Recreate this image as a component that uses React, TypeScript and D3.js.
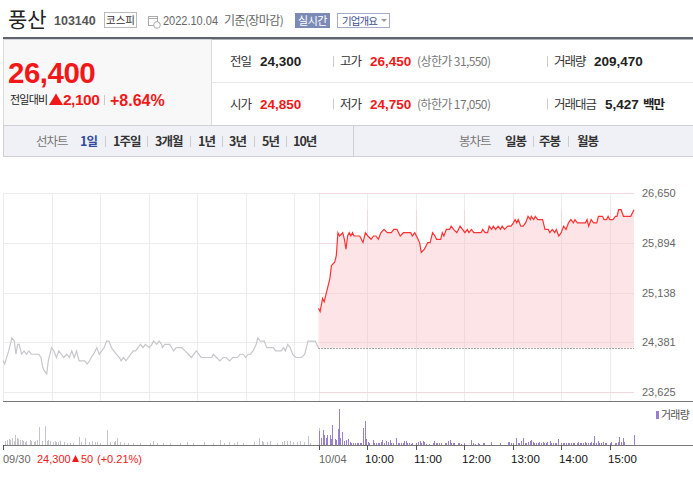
import React from "react";
import * as d3 from "d3";

// ---------- data ----------
const stockName = "풍산";
const stockCode = "103140";
const market = "코스피";
const asOfDate = "2022.10.04";
const asOfNote = "기준(장마감)";
const curPrice = "26,400";
const changeAbs = "2,100";
const changePct = "+8.64%";
const infoRow1 = [
  { label: "전일", value: "24,300", red: false, note: "" },
  { label: "고가", value: "26,450", red: true, note: "(상한가 31,550)" },
  { label: "거래량", value: "209,470", red: false, note: "" },
];
const infoRow2 = [
  { label: "시가", value: "24,850", red: true, note: "" },
  { label: "저가", value: "24,750", red: true, note: "(하한가 17,050)" },
  { label: "거래대금", value: "5,427", red: false, note: "백만" },
];
const lineTabs = ["1일", "1주일", "3개월", "1년", "3년", "5년", "10년"];
const candleTabs = ["일봉", "주봉", "월봉"];

const yTicks = [23625, 24381, 25138, 25894, 26650];
const prevClose = 24300;
const prevDayLabel = "09/30";
const todayLabel = "10/04";
const hourLabels = ["10:00", "11:00", "12:00", "13:00", "14:00", "15:00"];
const prevDaySummary = { price: "24,300", change: "50", pct: "(+0.21%)" };
const volumeLegend = "거래량";

// [minute from 09:00, price]
const prevSeries: [number, number][] = [
  [0, 24100], [2, 24050], [7, 24250], [11, 24450], [14, 24400], [16, 24200], [18, 24350], [20, 24350],
  [23, 24200], [26, 24250], [29, 24200], [32, 24250], [35, 24200], [39, 24200], [44, 24200], [47, 24150],
  [49, 24000], [51, 23950], [54, 23900], [56, 24100], [60, 24300], [63, 24250], [66, 24150], [69, 24250],
  [72, 24200], [75, 24150], [79, 24200], [82, 24150], [85, 24250], [88, 24150], [91, 24250], [94, 24100],
  [98, 24100], [101, 24100], [104, 24050], [107, 24100], [109, 24150], [112, 24200], [116, 24300], [119, 24200],
  [122, 24250], [125, 24300], [128, 24400], [131, 24400], [134, 24300], [137, 24250], [140, 24200], [144, 24150],
  [146, 24100], [149, 24150], [152, 24100], [155, 24150], [158, 24200], [161, 24250], [164, 24250], [167, 24300],
  [170, 24350], [173, 24300], [176, 24350], [181, 24300], [184, 24350], [186, 24400], [190, 24350], [193, 24400],
  [196, 24350], [197, 24300], [200, 24350], [206, 24350], [211, 24250], [214, 24300], [221, 24300], [225, 24250],
  [229, 24200], [233, 24150], [236, 24200], [239, 24250], [242, 24200], [245, 24150], [249, 24150], [258, 24150],
  [260, 24200], [264, 24150], [268, 24100], [272, 24150], [276, 24150], [280, 24100], [284, 24150], [290, 24150],
  [293, 24200], [297, 24200], [300, 24150], [303, 24200], [306, 24200], [309, 24250], [313, 24350], [315, 24450],
  [318, 24400], [323, 24400], [326, 24300], [334, 24300], [337, 24250], [344, 24250], [347, 24300], [349, 24250],
  [352, 24350], [355, 24300], [358, 24200], [362, 24150], [369, 24150], [373, 24200], [376, 24350], [377, 24400],
  [386, 24400], [390, 24300],
];

const todaySeries: [number, number][] = [
  [0, 24900], [2, 24850], [5, 25050], [7, 25000], [11, 25200], [14, 25350], [16, 25550], [20, 25600],
  [22, 25700], [24, 26050], [26, 26000], [30, 26050], [32, 25950], [34, 25800], [36, 26000], [38, 26050],
  [40, 26000], [42, 26050], [44, 26000], [51, 26000], [55, 25900], [58, 26050], [61, 26000], [65, 25950],
  [68, 26000], [71, 26000], [74, 25950], [77, 26050], [81, 26100], [85, 26050], [90, 26050], [93, 26100],
  [97, 26100], [101, 26000], [105, 26050], [114, 26050], [116, 26000], [119, 26050], [123, 25950], [125, 25900],
  [127, 25750], [131, 25800], [135, 25900], [138, 25900], [141, 26050], [144, 26000], [146, 25950], [151, 25950],
  [153, 26050], [155, 26000], [158, 26100], [162, 26100], [164, 26150], [167, 26100], [171, 26050], [175, 26150],
  [178, 26100], [181, 26050], [184, 26100], [186, 26050], [189, 26100], [192, 26050], [201, 26050], [203, 26100],
  [206, 26050], [209, 26050], [211, 26150], [214, 26100], [216, 26150], [219, 26100], [222, 26150], [225, 26100],
  [227, 26150], [230, 26100], [234, 26150], [238, 26150], [241, 26200], [243, 26250], [245, 26200], [247, 26250],
  [250, 26150], [253, 26150], [256, 26200], [259, 26300], [262, 26250], [263, 26300], [266, 26250], [268, 26300],
  [271, 26250], [277, 26250], [280, 26100], [284, 26100], [286, 26050], [289, 26100], [292, 26050], [294, 26100],
  [297, 26000], [300, 26050], [303, 26150], [306, 26100], [309, 26200], [312, 26250], [315, 26200], [317, 26250],
  [320, 26200], [330, 26200], [332, 26250], [334, 26150], [337, 26250], [340, 26200], [344, 26200], [346, 26300],
  [351, 26300], [353, 26250], [356, 26250], [358, 26300], [360, 26250], [364, 26250], [367, 26300], [369, 26300],
  [371, 26400], [374, 26400], [377, 26300], [386, 26300], [390, 26400],
];

// [minute from 09:00, shares]
const prevVolumes: [number, number][] = [
  [2, 900], [5, 1350], [7, 1500], [9, 1350], [11, 1750], [13, 900], [15, 2600], [17, 1750], [19, 1500],
  [21, 1150], [23, 1350], [25, 900], [27, 650], [29, 900], [33, 1350], [35, 900], [38, 650], [40, 900],
  [42, 1150], [45, 4500], [48, 900], [52, 4850], [54, 900], [56, 1150], [58, 900], [62, 650], [64, 900],
  [66, 650], [68, 650], [71, 900], [75, 650], [79, 500], [83, 500], [87, 500], [94, 2000], [97, 650],
  [101, 1750], [106, 650], [110, 900], [114, 650], [116, 650], [120, 500], [128, 3850], [132, 650], [137, 650],
  [139, 900], [141, 1750], [145, 650], [149, 500], [155, 500], [161, 500], [169, 500], [182, 500], [186, 900],
  [190, 500], [198, 500], [207, 500], [219, 500], [227, 650], [235, 500], [248, 650], [260, 500], [268, 1350],
  [273, 500], [279, 650], [285, 500], [289, 650], [297, 500], [310, 650], [317, 1750], [320, 900], [322, 650],
  [326, 650], [330, 900], [339, 500], [345, 650], [347, 900], [351, 900], [355, 900], [359, 650], [363, 650],
  [367, 900], [372, 650], [377, 2150], [380, 500], [390, 4250],
];

const todayVolumes: [number, number][] = [
  [1, 3500], [3, 1650], [5, 3750], [7, 2500], [9, 1650], [11, 2500], [14, 2500], [15, 1400], [17, 5000],
  [20, 1400], [22, 1250], [24, 3900], [25, 8900], [27, 1650], [29, 3300], [32, 1100], [34, 1250], [36, 1400],
  [39, 850], [40, 600], [43, 600], [45, 600], [47, 600], [49, 600], [51, 400], [53, 400], [55, 4150],
  [57, 6000], [59, 1400], [61, 850], [63, 400], [67, 1250], [69, 400], [71, 400], [73, 400], [75, 400],
  [77, 850], [79, 1250], [81, 600], [83, 1100], [86, 850], [88, 1250], [90, 400], [92, 400], [96, 1850],
  [98, 400], [100, 600], [102, 400], [104, 600], [106, 1100], [108, 1100], [110, 400], [112, 400], [114, 250],
  [116, 400], [121, 400], [123, 850], [125, 1100], [127, 400], [129, 1100], [131, 850], [133, 250], [137, 250],
  [141, 600], [143, 1100], [145, 600], [147, 400], [149, 400], [152, 400], [156, 400], [158, 400], [160, 1100],
  [162, 1250], [164, 600], [166, 600], [168, 400], [172, 400], [174, 400], [176, 250], [180, 400], [189, 1250],
  [191, 400], [193, 250], [197, 400], [199, 250], [203, 600], [205, 400], [213, 850], [224, 400], [234, 850],
  [236, 850], [238, 400], [240, 400], [244, 1850], [246, 400], [248, 400], [250, 1100], [253, 1850], [255, 400],
  [257, 600], [259, 850], [261, 1100], [263, 1250], [265, 850], [267, 600], [269, 400], [271, 600], [273, 850],
  [275, 400], [277, 850], [279, 600], [281, 400], [283, 850], [286, 1100], [288, 600], [290, 400], [292, 400],
  [294, 600], [296, 1400], [300, 400], [302, 400], [304, 600], [306, 400], [308, 400], [310, 600], [312, 400],
  [314, 400], [316, 400], [319, 400], [321, 850], [323, 600], [325, 400], [327, 400], [329, 850], [331, 400],
  [333, 400], [335, 400], [337, 850], [339, 400], [341, 2250], [343, 400], [345, 1100], [347, 600], [349, 400],
  [352, 850], [354, 600], [356, 400], [360, 400], [362, 850], [366, 400], [368, 400], [370, 850], [372, 1900],
  [374, 850], [376, 1650], [378, 850], [390, 2500],
];

// ---------- layout / style ----------
const SANS = "'Liberation Sans', Arial, 'Noto Sans CJK KR', sans-serif";
const KR = "'Noto Sans CJK KR', 'Liberation Sans', sans-serif";
const RED = "#f21818";
const tabX = [80, 113, 155, 198, 229, 262, 293];
const tabSepX = [105, 147, 190, 222, 254, 286];
const candleX = [505, 539, 577];
const candleSepX = [533, 568];

export default function App() {
  const W = 693;
  const H = 477;
  const DAY = 390;
  const x = d3.scaleLinear().domain([0, DAY * 2]).range([3, 634]);
  const y = d3.scaleLinear().domain([23625, 26650]).range([392, 193.3]);
  const v = d3.scaleLinear().domain([0, 10000]).range([445, 405]);

  const line = d3
    .line<[number, number]>()
    .x((d) => x(d[0]))
    .y((d) => y(d[1]));
  const todayShifted = todaySeries.map(([m, p]) => [m + DAY, p] as [number, number]);
  const area = d3
    .area<[number, number]>()
    .x((d) => x(d[0]))
    .y0(y(prevClose))
    .y1((d) => y(d[1]));

  const hourGrid: number[] = [];
  for (let h = 0; h <= 6; h++) hourGrid.push(h * 60);
  for (let h = 0; h <= 6; h++) hourGrid.push(DAY + h * 60);

  const plotRight = x(DAY * 2);
  const grid = "#ececec";

  return (
    <svg
      width={W}
      height={H}
      style={{ position: "absolute", left: 0, top: 0, background: "#fff" }}
      fontFamily={SANS}
    >
      {/* ---------- title row ---------- */}
      <text x={8} y={27} fontFamily={KR} fontSize={21} fill="#222">
        {stockName}
      </text>
      <text x={54} y={25} fontSize={12.5} fontWeight="bold" fill="#555">
        {stockCode}
      </text>
      <rect x={104.5} y={12.5} width={32} height={15} fill="#fff" stroke="#bbb" />
      <text x={120.5} y={24} fontFamily={KR} fontSize={10.5} fill="#333" textAnchor="middle">
        {market}
      </text>
      <g stroke="#aaa" fill="none">
        <rect x={148.5} y={16.5} width={9} height={9} />
        <line x1={148.5} y1={18.5} x2={157.5} y2={18.5} />
        <circle cx={157} cy={25} r={3.3} fill="#fff" />
      </g>
      <text x={163} y={25} fontSize={12} fill="#666" textLength={55} lengthAdjust="spacingAndGlyphs">
        {asOfDate}
      </text>
      <text x={224} y={25} fontFamily={KR} fontSize={12} fill="#666" letterSpacing={-0.6}>
        {asOfNote}
      </text>
      <rect x={295} y={13} width={35} height={15} fill="#7b8bb6" />
      <text x={312.5} y={24.5} fontFamily={KR} fontSize={11} fill="#fff" textAnchor="middle" letterSpacing={-0.5}>
        실시간
      </text>
      <rect x={337.5} y={13.5} width={52} height={14} fill="#fff" stroke="#a4acc8" />
      <text x={342} y={24.5} fontFamily={KR} fontSize={10.5} fill="#3d4f8f" letterSpacing={-0.9}>
        기업개요
      </text>
      <path d="M381,19 L387,19 L384,22 Z" fill="#999" />

      {/* ---------- price block ---------- */}
      <rect x={3} y={37} width={690} height={2.5} fill="#5e646e" />
      <rect x={3} y={39.5} width={208} height={85.5} fill="#f8f8f9" />
      <line x1={211.5} y1={39.5} x2={211.5} y2={125} stroke="#dcdcdc" />
      <line x1={3.5} y1={39.5} x2={3.5} y2={125} stroke="#dcdcdc" />
      <line x1={212} y1={82.5} x2={693} y2={82.5} stroke="#e8e8e8" />

      <text x={8} y={83} fontSize={29.5} fontWeight="bold" fill={RED} letterSpacing={-0.5}>
        {curPrice}
      </text>
      <text x={10} y={104} fontFamily={KR} fontSize={11} fill="#222" letterSpacing={-0.8}>
        전일대비
      </text>
      <path d="M49,105 L56,93.5 L63,105 Z" fill={RED} />
      <text x={63} y={105} fontSize={15.5} fontWeight="bold" fill={RED} letterSpacing={-0.5}>
        {changeAbs}
      </text>
      <line x1={104.5} y1={95} x2={104.5} y2={105} stroke="#ccc" />
      <text x={110} y={105.5} fontSize={16} fontWeight="bold" fill={RED}>
        {changePct}
      </text>

      {[infoRow1, infoRow2].map((row, ri) => {
        const by = ri === 0 ? 66 : 108.5;
        const cols = [230, 340, 554];
        const valX = [260, 370, ri === 0 ? 594 : 605];
        return (
          <g key={ri}>
            <line x1={333.5} y1={by - 10} x2={333.5} y2={by + 1} stroke="#ccc" />
            <line x1={547.5} y1={by - 10} x2={547.5} y2={by + 1} stroke="#ccc" />
            {row.map((c, i) => (
              <g key={i}>
                <text x={cols[i]} y={by} fontFamily={KR} fontSize={12.5} fill="#333" letterSpacing={-1}>
                  {c.label}
                </text>
                <text x={valX[i]} y={by} fontSize={13.5} fontWeight="bold" fill={c.red ? RED : "#222"}>
                  {c.value}
                </text>
                {c.note && i === 1 && (
                  <text x={417} y={by} fontFamily={KR} fontSize={12} fill="#777" letterSpacing={-0.6}>
                    {c.note}
                  </text>
                )}
                {c.note && i === 2 && (
                  <text x={643} y={by} fontFamily={KR} fontSize={12.5} fontWeight="bold" fill="#222" letterSpacing={-1}>
                    {c.note}
                  </text>
                )}
              </g>
            ))}
          </g>
        );
      })}

      {/* ---------- tab bar ---------- */}
      <rect x={3.5} y={125.5} width={690} height={31} fill="#f0f1f6" stroke="#cfd0d6" />
      <line x1={353.5} y1={126} x2={353.5} y2={156} stroke="#cfd0d6" />
      <text x={36} y={146} fontFamily={KR} fontSize={12.5} fill="#777" letterSpacing={-1}>
        선차트
      </text>
      {lineTabs.map((t, i) => (
        <text
          key={t}
          x={tabX[i]}
          y={146}
          fontFamily={KR}
          fontSize={12.5}
          fontWeight="bold"
          fill={i === 0 ? "#2f4c9c" : "#333"}
          letterSpacing={-1}
        >
          {t}
        </text>
      ))}
      {tabSepX.map((sx) => (
        <line key={sx} x1={sx + 0.5} y1={136} x2={sx + 0.5} y2={147} stroke="#ccc" />
      ))}
      <text x={459} y={146} fontFamily={KR} fontSize={12.5} fill="#777" letterSpacing={-1}>
        봉차트
      </text>
      {candleTabs.map((t, i) => (
        <text key={t} x={candleX[i]} y={146} fontFamily={KR} fontSize={12.5} fontWeight="bold" fill="#333" letterSpacing={-1}>
          {t}
        </text>
      ))}
      {candleSepX.map((sx) => (
        <line key={sx} x1={sx + 0.5} y1={136} x2={sx + 0.5} y2={147} stroke="#ccc" />
      ))}

      {/* ---------- price chart ---------- */}
      <g shapeRendering="crispEdges">
        {yTicks.map((t) => (
          <line key={t} x1={3} x2={plotRight} y1={Math.round(y(t)) + 0.5} y2={Math.round(y(t)) + 0.5} stroke={grid} />
        ))}
        {hourGrid.map((m) => (
          <line
            key={m}
            x1={Math.round(x(m)) + 0.5}
            x2={Math.round(x(m)) + 0.5}
            y1={Math.round(y(26650))}
            y2={402}
            stroke={grid}
          />
        ))}
      </g>
      <path d={area(todayShifted) || ""} fill="#fde5e7" />
      {yTicks.map((t) => (
        <line key={"g" + t} x1={x(DAY)} x2={plotRight} y1={Math.round(y(t)) + 0.5} y2={Math.round(y(t)) + 0.5} stroke="#f0d9dc" shapeRendering="crispEdges" />
      ))}
      {hourGrid
        .filter((m) => m > DAY)
        .map((m) => (
          <line
            key={"h" + m}
            x1={Math.round(x(m)) + 0.5}
            x2={Math.round(x(m)) + 0.5}
            y1={Math.min(...todayShifted.map((d) => y(d[1])))}
            y2={y(prevClose)}
            stroke="#f0d9dc"
            shapeRendering="crispEdges"
          />
        ))}
      <line
        x1={x(DAY)}
        x2={plotRight}
        y1={Math.round(y(prevClose)) + 0.5}
        y2={Math.round(y(prevClose)) + 0.5}
        stroke="#555"
        strokeDasharray="1,2"
      />
      <path d={line(prevSeries) || ""} fill="none" stroke="#c6c7cc" strokeWidth={1.2} />
      <path d={line(todayShifted) || ""} fill="none" stroke="#ff3333" strokeWidth={1.2} />

      {yTicks.map((t) => (
        <text key={"l" + t} x={642} y={y(t) + 4} fontSize={11} fill="#666">
          {d3.format(",")(t)}
        </text>
      ))}

      {/* ---------- volume ---------- */}
      <line x1={3} x2={693} y1={401.5} y2={401.5} stroke="#777" shapeRendering="crispEdges" />
      <g shapeRendering="crispEdges">
        {prevVolumes.map(([m, vol]) => (
          <rect key={"p" + m} x={Math.round(x(m))} y={v(vol)} width={1} height={445 - v(vol)} fill="#c3c4c9" />
        ))}
        {todayVolumes.map(([m, vol]) => (
          <rect key={"t" + m} x={Math.round(x(m + DAY))} y={v(vol)} width={1} height={445 - v(vol)} fill="#9a80cc" />
        ))}
      </g>
      <line x1={3} x2={693} y1={445.5} y2={445.5} stroke="#777" shapeRendering="crispEdges" />
      <rect x={656} y={411} width={3} height={8} fill="#9a80cc" />
      <text x={661} y={419} fontFamily={KR} fontSize={11} fill="#555" letterSpacing={-0.8}>
        {volumeLegend}
      </text>

      {/* ---------- time axis ---------- */}
      <g shapeRendering="crispEdges">
        {[0, DAY, ...hourGrid.filter((m) => m > DAY && m < DAY * 2)].map((m) => (
          <line key={"k" + m} x1={Math.round(x(m)) + 0.5} x2={Math.round(x(m)) + 0.5} y1={445} y2={450} stroke="#555" />
        ))}
      </g>
      <text x={3} y={463} fontSize={11} fill="#666">
        {prevDayLabel}
      </text>
      <text x={37} y={463} fontSize={11} fill={RED}>
        {prevDaySummary.price}
      </text>
      <path d="M72,462 L75.5,455 L79,462 Z" fill={RED} />
      <text x={81} y={463} fontSize={11} fill={RED}>
        {prevDaySummary.change}
      </text>
      <text x={97} y={463} fontSize={11} fill={RED}>
        {prevDaySummary.pct}
      </text>
      <text x={Math.round(x(DAY))} y={463} fontSize={11} fill="#666">
        {todayLabel}
      </text>
      {hourLabels.map((h, i) => (
        <text key={h} x={Math.round(x(DAY + (i + 1) * 60)) - 2} y={463} fontSize={11.5} fill="#111">
          {h}
        </text>
      ))}
    </svg>
  );
}
